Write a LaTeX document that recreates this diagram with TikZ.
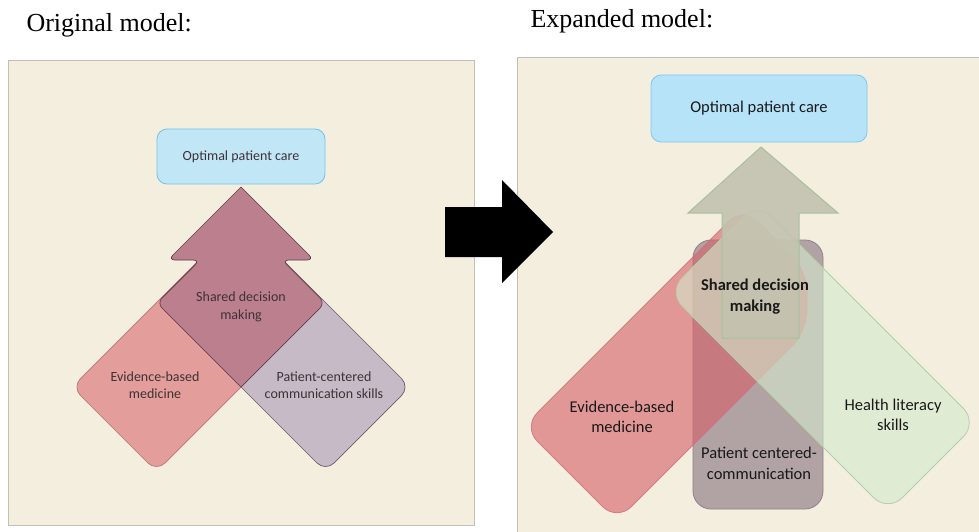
\documentclass[tikz,border=0pt]{standalone}
\usepackage{fontspec}
\setmainfont{Liberation Serif}
\newfontfamily\labelfont{Carlito}

% colours
\definecolor{panelbg}{HTML}{F4EEDF}
\definecolor{panelline}{HTML}{C4BFB5}
\definecolor{carefill}{HTML}{C1E7F7}
\definecolor{careline}{HTML}{74C3E6}
\definecolor{evfill}{HTML}{E39D9A}
\definecolor{evline}{HTML}{C2707A}
\definecolor{pcfill}{HTML}{C6BAC6}
\definecolor{pcline}{HTML}{6F5B6B}
\definecolor{sdfill}{HTML}{BC7F8E}
\definecolor{sdline}{HTML}{5D3D49}
\definecolor{ltext}{HTML}{3E3236}
\definecolor{rcarefill}{HTML}{B7E3F9}
\definecolor{rcareline}{HTML}{7DC7EE}
\definecolor{rpcfill}{HTML}{B1A3A4}
\definecolor{rpcline}{HTML}{8E7F8A}
\definecolor{redfill}{HTML}{D75D68}
\definecolor{redline}{HTML}{D46B76}
\definecolor{grnfill}{HTML}{D4E9CC}
\definecolor{grnline}{HTML}{B4CFA7}
\definecolor{arwfill}{HTML}{C3C2B0}
\definecolor{arwline}{HTML}{A6C19B}

\tikzset{
  panel/.style={fill=panelbg, draw=panelline, line width=0.8pt},
  title/.style={anchor=base west, font=\fontsize{26}{30}\selectfont},
  carebox/.style={rounded corners=10pt, line width=0.8pt, align=center},
  llabel/.style={font=\labelfont\fontsize{14}{17.5}\selectfont, text=ltext, align=center},
  rlabel/.style={font=\labelfont\fontsize{16.5}{20.5}\selectfont, text=black!90, align=center},
}

\begin{document}
\begin{tikzpicture}[x=1pt,y=-1pt]
    \useasboundingbox (0,0) rectangle (979,532);
    \fill[white] (0,0) rectangle (979,532);

    \node[title] (origtitle) at (23,32) {Original model:};
    \node[title] (exptitle) at (527,28) {Expanded model:};

    % left panel
    \draw[panel] (8,60) rectangle (474,525);
    \draw[fill=evfill, draw=evline, line width=0.7pt, rounded corners=12pt]
        (72,387) -- (156.5,471.5) -- (325,303) -- (240.5,218.5) -- cycle;
    \draw[fill=pcfill, draw=pcline, line width=0.7pt, rounded corners=12pt]
        (157,303) -- (241.5,218.5) -- (410,387) -- (325.5,471.5) -- cycle;
    \draw[fill=sdfill, draw=sdline, line width=0.7pt]
        (241,187) [rounded corners=7pt] -- (314,260) -- (282,260) -- (325,303)
        [sharp corners] -- (241,387) [rounded corners=7pt] -- (157,303) -- (200,260)
        -- (168,260) [sharp corners] -- cycle;
    \node[carebox, fill=carefill, draw=careline, minimum width=168pt, minimum height=55pt,
          llabel] (lcare) at (241,156.5) {Optimal patient care};
    \node[llabel] (lshared) at (241,307) {Shared decision\\making};
    \node[llabel] (lev) at (155,385) {Evidence-based\\medicine};
    \node[llabel] (lpc) at (324,385) {Patient-centered\\communication skills};

    % right panel
    \fill[panelbg] (517,57) rectangle (979,532);
    \draw[panelline, line width=0.8pt] (517,532) -- (517,57) -- (979,57);
    \draw[fill=rpcfill, draw=rpcline, line width=0.8pt, rounded corners=18pt]
        (693,240) rectangle (823,509);
    \draw[fill=redfill, fill opacity=0.6, draw=redline, draw opacity=0.8, line width=0.8pt,
          rounded corners=20pt]
        (523,427) -- (617,521) -- (807,331) -- (807,271) -- (743,207) -- cycle;
    \draw[fill=grnfill, fill opacity=0.6, draw=grnline, line width=0.8pt, rounded corners=20pt]
        (668,292) -- (757.5,202.5) -- (977.5,422.5) -- (888,512) -- cycle;
    \draw[fill=arwfill, fill opacity=0.9, draw=arwline, line width=1pt]
        (761,147) -- (838,213) -- (799,213) -- (799,338) -- (722,338) -- (722,213)
        -- (688,213) -- cycle;
    \node[carebox, fill=rcarefill, draw=rcareline, minimum width=216pt, minimum height=67pt,
          rlabel] (rcare) at (759,108.5) {Optimal patient care};
    \node[rlabel, font=\labelfont\bfseries\fontsize{16.5}{20.5}\selectfont]
        (rshared) at (755,296.5) {Shared decision\\making};
    \node[rlabel] (rev) at (622,417) {Evidence-based\\medicine};
    \node[rlabel] (rhl) at (893,415) {Health literacy\\skills};
    \node[rlabel] (rpc) at (759,463.5) {Patient centered-\\communication};

    % black arrow between the panels
    \fill[black] (445,207) -- (502,207) -- (502,180) -- (553,232) -- (502,283) -- (502,257)
        -- (445,257) -- cycle;
\end{tikzpicture}
\end{document}
